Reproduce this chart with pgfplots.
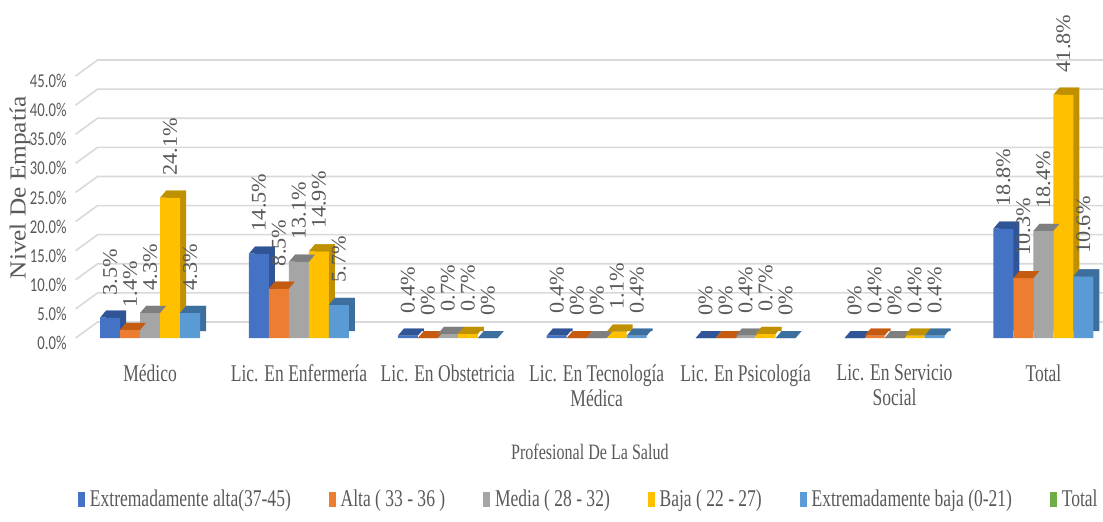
\documentclass[border=0pt]{standalone}
\usepackage{fontspec}
\setmainfont{Liberation Serif}[FakeStretch=0.73]
\newfontfamily\tickfont{Carlito}[FakeStretch=0.75]
\newfontfamily\dlfont{Liberation Serif}[FakeStretch=1.07]
\newfontfamily\ylabfont{Liberation Serif}[FakeStretch=1.1]
\usepackage{pgfplots}
\usepackage{pgfplotstable}
\pgfplotsset{compat=1.18}
\usetikzlibrary{calc}

\definecolor{cA}{HTML}{4472C4}\definecolor{cAd}{HTML}{2F5597}
\definecolor{cB}{HTML}{ED7D31}\definecolor{cBd}{HTML}{C55A11}
\definecolor{cC}{HTML}{A5A5A5}\definecolor{cCd}{HTML}{7F7F7F}
\definecolor{cD}{HTML}{FFC000}\definecolor{cDd}{HTML}{BF9000}
\definecolor{cE}{HTML}{5B9BD5}\definecolor{cEd}{HTML}{3C6E9E}
\definecolor{cF}{HTML}{70AD47}
\definecolor{txt}{HTML}{595959}
\definecolor{gridc}{HTML}{D9D9D9}

\pgfdeclareplotmark{topface}{%
  \pgfpathmoveto{\pgfpoint{-5pt}{0pt}}%
  \pgfpathlineto{\pgfpoint{5pt}{0pt}}%
  \pgfpathlineto{\pgfpoint{8pt}{3.5pt}}%
  \pgfpathlineto{\pgfpoint{-2pt}{3.5pt}}%
  \pgfpathclose\pgfusepathqfill}

% series: x = category index, y = percent
\pgfplotstableread{
x y
0 3.5
1 14.5
2 0.4
3 0.4
4 0
5 0
6 18.8
}\dataA
\pgfplotstableread{
x y
0 1.4
1 8.5
2 0
3 0
4 0
5 0.4
6 10.3
}\dataB
\pgfplotstableread{
x y
0 4.3
1 13.1
2 0.7
3 0
4 0.4
5 0
6 18.4
}\dataC
\pgfplotstableread{
x y
0 24.1
1 14.9
2 0.7
3 1.1
4 0.7
5 0.4
6 41.8
}\dataD
\pgfplotstableread{
x y
0 4.3
1 5.7
2 0
3 0.4
4 0
5 0.4
6 10.6
}\dataE

\begin{document}
\begin{tikzpicture}
\begin{axis}[
  name=ax,
  scale only axis,
  width=512.2pt, height=131pt,
  xmin=-0.5, xmax=6.38,
  ymin=0, ymax=45,
  clip=false,
  axis line style={draw=none},
  major tick length=0pt,
  /pgf/number format/assume math mode=true,
  ytick={0,5,...,45},
  yticklabel={\pgfmathprintnumber[fixed,fixed zerofill,precision=1]{\tick}\%},
  yticklabel style={font=\tickfont\fontsize{9.8}{10}\selectfont, text=txt, anchor=east, xshift=-1pt, yshift=-2.5pt},
  xtick={0,...,6},
  xticklabels={Médico, Lic. En Enfermería, Lic. En Obstetricia, {Lic. En Tecnología\\Médica}, Lic. En Psicología, {Lic. En Servicio\\Social}, Total},
  xticklabel style={font=\fontsize{12}{12.5}\selectfont, text=txt, align=center, anchor=north, yshift=-10pt},
  xlabel={Profesional De La Salud},
  xlabel style={at={(axis description cs:0.502,-0.435)}, anchor=center, font=\fontsize{11}{12}\selectfont, text=txt},
  ylabel={Nivel De Empatía},
  ylabel style={at={(axis description cs:-0.0543,0.573)}, anchor=center, font=\ylabfont\fontsize{11.5}{12}\selectfont, text=txt},
  ybar, bar width=10pt,
  nodes near coords={\pgfmathprintnumber[fixed,precision=1]{\pgfplotspointmeta}\%},
  every node near coord/.append style={font=\dlfont\fontsize{10.4}{10}\selectfont, text=txt, rotate=90, anchor=west, inner sep=0pt, xshift=11pt},
  legend style={at={(axis description cs:0.502,-0.618)}, anchor=center, draw=none, fill=none,
    font=\fontsize{12}{12}\selectfont, text=txt, legend columns=6,
    /tikz/every odd column/.append style={column sep=0.5pt},
    /tikz/every even column/.append style={column sep=17pt}},
]
% back-wall grid lines with 3D slant
\pgfplotsinvokeforeach{0,5,...,45}{
  \draw[gridc, line width=0.8pt] (axis cs:-0.5,#1) -- ++(11pt,8pt) -- ([yshift=8pt]axis cs:7,#1);
}
% series A
\addplot[fill=cAd, draw=none, bar shift=-20pt, xshift=3pt, yshift=3.5pt, forget plot, nodes near coords={}] table[x=x,y=y]{\dataA};
\addplot[fill=cA, draw=none, bar shift=-20pt, forget plot] table[x=x,y=y]{\dataA};
\addplot[only marks, mark=topface, mark options={fill=cAd, draw=none}, color=cAd, xshift=-20pt, forget plot, nodes near coords={}] table[x=x,y=y]{\dataA};
% series B
\addplot[fill=cBd, draw=none, bar shift=-10pt, xshift=3pt, yshift=3.5pt, forget plot, nodes near coords={}] table[x=x,y=y]{\dataB};
\addplot[fill=cB, draw=none, bar shift=-10pt, forget plot] table[x=x,y=y]{\dataB};
\addplot[only marks, mark=topface, mark options={fill=cBd, draw=none}, color=cBd, xshift=-10pt, forget plot, nodes near coords={}] table[x=x,y=y]{\dataB};
% series C
\addplot[fill=cCd, draw=none, bar shift=0pt, xshift=3pt, yshift=3.5pt, forget plot, nodes near coords={}] table[x=x,y=y]{\dataC};
\addplot[fill=cC, draw=none, bar shift=0pt, forget plot] table[x=x,y=y]{\dataC};
\addplot[only marks, mark=topface, mark options={fill=cCd, draw=none}, color=cCd, xshift=0pt, forget plot, nodes near coords={}] table[x=x,y=y]{\dataC};
% series D
\addplot[fill=cDd, draw=none, bar shift=10pt, xshift=3pt, yshift=3.5pt, forget plot, nodes near coords={}] table[x=x,y=y]{\dataD};
\addplot[fill=cD, draw=none, bar shift=10pt, forget plot] table[x=x,y=y]{\dataD};
\addplot[only marks, mark=topface, mark options={fill=cDd, draw=none}, color=cDd, xshift=10pt, forget plot, nodes near coords={}] table[x=x,y=y]{\dataD};
% series E
\addplot[fill=cEd, draw=none, bar shift=20pt, xshift=3pt, yshift=3.5pt, forget plot, nodes near coords={}] table[x=x,y=y]{\dataE};
\addplot[fill=cE, draw=none, bar shift=20pt, forget plot] table[x=x,y=y]{\dataE};
\addplot[only marks, mark=topface, mark options={fill=cEd, draw=none}, color=cEd, xshift=20pt, forget plot, nodes near coords={}] table[x=x,y=y]{\dataE};

\addlegendimage{legend image code/.code={\fill[cA] (0pt,-3.4pt) rectangle (3pt,3.8pt);}}
\addlegendentry{Extremadamente alta(37-45)}
\addlegendimage{legend image code/.code={\fill[cB] (0pt,-3.4pt) rectangle (3pt,3.8pt);}}
\addlegendentry{Alta ( 33 - 36 )}
\addlegendimage{legend image code/.code={\fill[cC] (0pt,-3.4pt) rectangle (3pt,3.8pt);}}
\addlegendentry{Media ( 28 - 32)}
\addlegendimage{legend image code/.code={\fill[cD] (0pt,-3.4pt) rectangle (3pt,3.8pt);}}
\addlegendentry{Baja ( 22 - 27)}
\addlegendimage{legend image code/.code={\fill[cE] (0pt,-3.4pt) rectangle (3pt,3.8pt);}}
\addlegendentry{Extremadamente baja (0-21)}
\addlegendimage{legend image code/.code={\fill[cF] (0pt,-3.4pt) rectangle (3pt,3.8pt);}}
\addlegendentry{Total}
\end{axis}
\pgfresetboundingbox
\useasboundingbox ($(ax.south west)+(-37.8pt,-91.5pt)$) rectangle ($(ax.south west)+(513.7pt,169pt)$);
\end{tikzpicture}
\end{document}
